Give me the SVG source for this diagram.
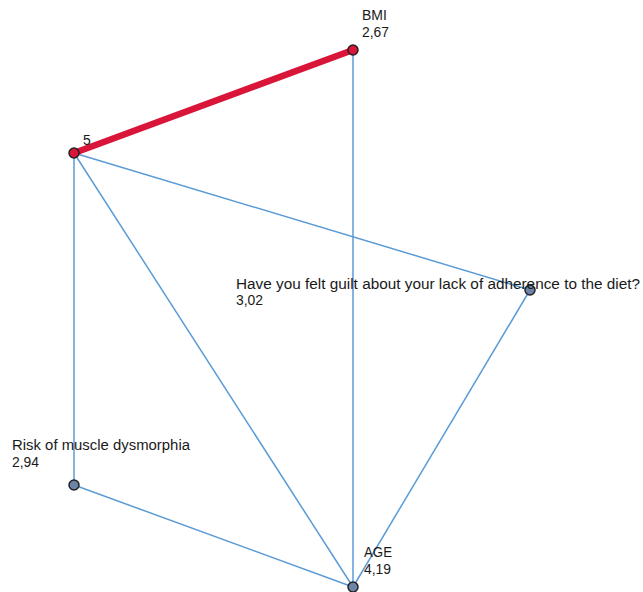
<svg xmlns="http://www.w3.org/2000/svg" width="643" height="592" viewBox="0 0 643 592">
<style>
.e{stroke:#5b9bd5;stroke-width:1.5;fill:none}
.r{stroke:#d9163a;stroke-width:6.5;fill:none;stroke-linecap:round}
.t{font-family:"Liberation Sans",Arial,sans-serif;font-size:14px;fill:#1a1a1a}
.nr{fill:#d9163a;stroke:#222;stroke-width:1.5}
.nb{fill:#6b84a8;stroke:#222;stroke-width:1.5}
</style>
<rect width="643" height="592" fill="#fff"/>
<g id="connectors">
<line class="e" x1="74" y1="153" x2="74" y2="485"/>
<line class="e" x1="74" y1="153" x2="353" y2="587"/>
<line class="e" x1="74" y1="153" x2="530" y2="290"/>
<line class="e" x1="353" y1="50" x2="353" y2="587"/>
<line class="e" x1="530" y1="290" x2="353" y2="587"/>
<line class="e" x1="74" y1="485" x2="353" y2="587"/>
<line class="r" x1="74" y1="153" x2="353" y2="50"/>
</g>
<g id="node-bmi">
<circle class="nr" cx="353" cy="50" r="5"/>
<text class="t" x="362" y="20">BMI</text>
<text class="t" x="362" y="37" textLength="27" lengthAdjust="spacingAndGlyphs">2,67</text>
</g>
<g id="node-5">
<circle class="nr" cx="74" cy="153" r="5"/>
<text class="t" x="83" y="145">5</text>
</g>
<g id="node-guilt">
<circle class="nb" cx="530" cy="290" r="5"/>
<text class="t" x="236" y="289" textLength="404" lengthAdjust="spacingAndGlyphs">Have you felt guilt about your lack of adherence to the diet?</text>
<text class="t" x="236" y="305" textLength="27" lengthAdjust="spacingAndGlyphs">3,02</text>
</g>
<g id="node-risk">
<circle class="nb" cx="74" cy="485" r="5"/>
<text class="t" x="12" y="450" textLength="178" lengthAdjust="spacingAndGlyphs">Risk of muscle dysmorphia</text>
<text class="t" x="12" y="467" textLength="27" lengthAdjust="spacingAndGlyphs">2,94</text>
</g>
<g id="node-age">
<circle class="nb" cx="353" cy="587" r="5"/>
<text class="t" x="364" y="557" textLength="28" lengthAdjust="spacingAndGlyphs">AGE</text>
<text class="t" x="364" y="574" textLength="27" lengthAdjust="spacingAndGlyphs">4,19</text>
</g>
</svg>
